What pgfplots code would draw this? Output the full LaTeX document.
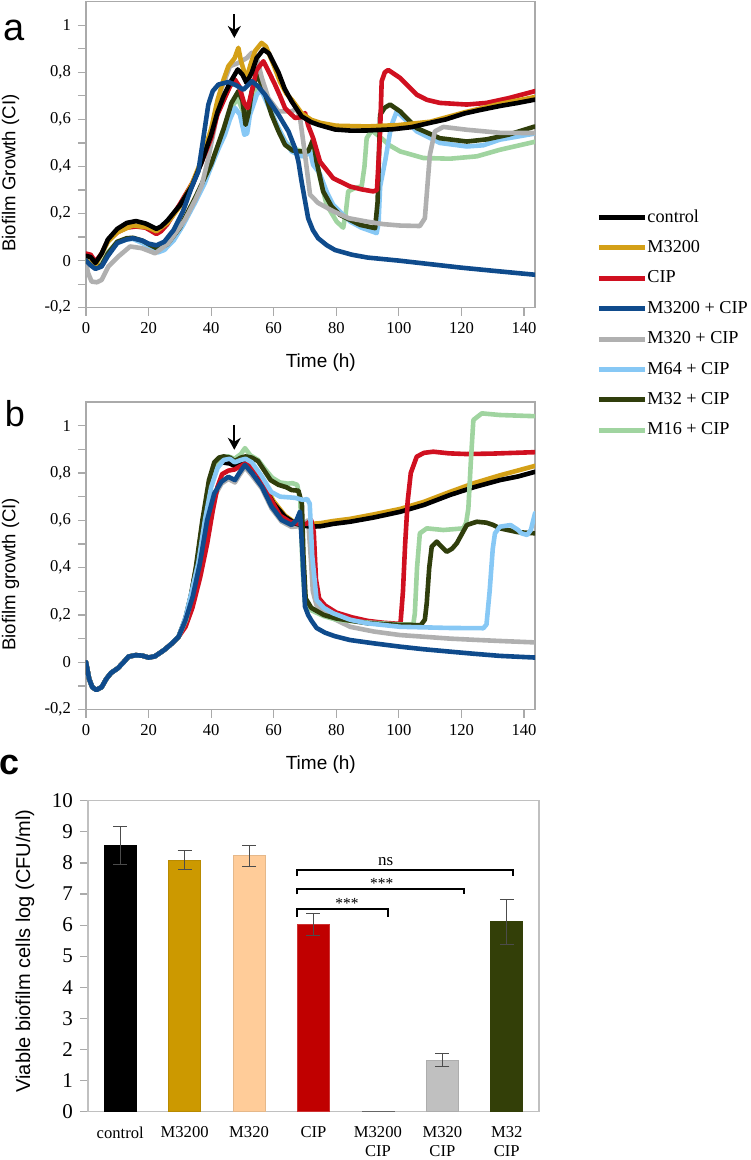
\documentclass[border=0pt]{standalone}
\usepackage{fontspec}
\setmainfont{Liberation Serif}
\newfontfamily\seriff{Liberation Serif}
\newfontfamily\sansf{Liberation Sans}
\usepackage{pgfplots}
\pgfplotsset{compat=1.18}
\usetikzlibrary{arrows.meta}
\definecolor{cblack}{RGB}{0,0,0}
\definecolor{cgold}{RGB}{212,160,23}
\definecolor{cred}{RGB}{208,16,32}
\definecolor{cblue}{RGB}{15,75,140}
\definecolor{cgray}{RGB}{176,176,176}
\definecolor{clblue}{RGB}{135,200,245}
\definecolor{colive}{RGB}{48,62,12}
\definecolor{cgreen}{RGB}{160,212,160}
\definecolor{boxgray}{RGB}{170,170,170}
\definecolor{bgold}{RGB}{204,153,0}
\definecolor{bpeach}{RGB}{255,204,153}
\definecolor{bred}{RGB}{192,0,0}
\definecolor{bgray}{RGB}{192,192,192}
\definecolor{bolive}{RGB}{51,63,8}
\pgfplotsset{
  lineaxis/.style={
    scale only axis, width=224.5pt,
    xmin=0, xmax=143.5, ymin=-0.2, ymax=1.1,
    xtick={0,20,40,60,80,100,120,140},
    xticklabels={0,20,40,60,80,100,120,140},
    ytick={-0.2,0,0.2,0.4,0.6,0.8,1},
    yticklabels={{-0,2},{0},{0,2},{0,4},{0,6},{0,8},{1}},
    minor ytick={-0.1,0.1,0.3,0.5,0.7,0.9},
    tick align=outside, tick pos=left,
    major tick length=4pt, minor tick length=4pt,
    axis line style={boxgray, line width=0.6pt},
    tick style={boxgray, line width=0.6pt},
    ticklabel style={font=\seriff\fontsize{8.3}{10}\selectfont},
    every axis y label/.style={at={(axis description cs:-0.168,0.44)}, rotate=90, anchor=center, font=\sansf\fontsize{9.3}{11}\selectfont},
    every axis x label/.style={at={(axis description cs:0.523,-0.18)}, anchor=center, font=\sansf\fontsize{9.5}{11}\selectfont},
    xlabel={Time (h)},
    every axis plot/.append style={no markers, line width=2.3pt, line join=round, line cap=round},
    legend image code/.code={\draw[#1, line width=2.5pt, line cap=butt] (0pt,0pt) -- (23pt,0pt);},
  }
}
\begin{document}
\begin{tikzpicture}
\path[use as bounding box] (0,0) rectangle (375pt,-580pt);
% ---------------- panel a
\begin{axis}[lineaxis, at={(43pt,-0.85pt)}, anchor=north west, height=153pt,
  ylabel={Biofilm Growth (CI)},
  legend style={at={(axis description cs:1.136,0.3235)}, anchor=north west, draw=none, fill=none, inner sep=0pt,
    row sep=6.9pt, font=\seriff\fontsize{9.1}{10}\selectfont,
    nodes={inner sep=0pt, text height=6.5pt, text depth=1.8pt, anchor=west}},
  legend cell align=left,
  legend columns=1,
  /tikz/every even column/.append style={column sep=2.5pt},
]
\addlegendimage{cblack}\addlegendentry{control}
\addlegendimage{cgold}\addlegendentry{M3200}
\addlegendimage{cred}\addlegendentry{CIP}
\addlegendimage{cblue}\addlegendentry{M3200 + CIP}
\addlegendimage{cgray}\addlegendentry{M320 + CIP}
\addlegendimage{clblue}\addlegendentry{M64 + CIP}
\addlegendimage{colive}\addlegendentry{M32 + CIP}
\addlegendimage{cgreen}\addlegendentry{M16 + CIP}
% M16 + CIP
\addplot[cgreen, forget plot] coordinates {(0,0.0) (3,-0.025) (5,-0.015) (7,0.035) (10,0.08) (13,0.092) (15,0.095) (18,0.08) (20,0.068) (23,0.045) (26,0.065) (30,0.13) (35,0.26) (40,0.40) (44,0.56) (46.5,0.65) (48.5,0.69) (50,0.64) (51,0.6) (52.5,0.66) (54.5,0.74) (56,0.75) (58,0.68) (61,0.57) (64,0.5) (66.5,0.475) (69,0.465) (71.5,0.47) (72.6,0.48) (74.8,0.35) (76.9,0.237) (80.1,0.166) (82.2,0.14) (83,0.2) (83.8,0.294) (86,0.309) (88.1,0.315) (89,0.4) (89.7,0.52) (91.3,0.553) (94,0.525) (97,0.49) (100.4,0.464) (107.8,0.436) (116.3,0.433) (124.9,0.443) (132.3,0.471) (143.5,0.505)};
% M64 + CIP
\addplot[clblue, forget plot] coordinates {(0,-0.005) (3,-0.03) (5,-0.02) (7,0.03) (10,0.075) (13,0.09) (15,0.092) (18,0.075) (20,0.06) (23,0.035) (25,0.045) (28,0.085) (31,0.15) (35,0.25) (38,0.33) (40,0.40) (42.5,0.48) (44.4,0.535) (46,0.6) (47.6,0.649) (49.2,0.62) (50.6,0.535) (51.5,0.54) (52.4,0.62) (54.6,0.705) (56,0.725) (58.5,0.65) (61.5,0.564) (63.5,0.51) (65.7,0.464) (68.9,0.443) (70.5,0.45) (71.6,0.464) (72.6,0.407) (74.7,0.37) (77,0.29) (79,0.237) (84.4,0.166) (88,0.14) (92.9,0.117) (93.5,0.16) (94,0.315) (95.7,0.43) (97.5,0.57) (99.3,0.634) (102,0.6) (105.7,0.549) (113.1,0.5) (121.7,0.485) (127,0.49) (132.3,0.514) (143.5,0.54)};
% M32 + CIP
\addplot[colive, forget plot] coordinates {(0,0.0) (3,-0.03) (5,-0.02) (7,0.03) (10,0.08) (13,0.095) (15,0.097) (18,0.085) (20,0.07) (23,0.05) (26,0.07) (30,0.14) (35,0.27) (40,0.41) (44,0.56) (46.5,0.67) (48.7,0.72) (50,0.68) (51,0.577) (52,0.63) (53,0.72) (54.6,0.79) (56.5,0.74) (59.3,0.62) (61.5,0.55) (63.6,0.492) (66,0.468) (67.9,0.464) (71,0.464) (72.6,0.515) (73.7,0.42) (75.8,0.294) (78.5,0.23) (81.2,0.194) (87.6,0.152) (92.4,0.138) (93.2,0.25) (94,0.62) (95.5,0.65) (97.2,0.663) (100.4,0.634) (105.7,0.563) (113.1,0.52) (121.7,0.506) (128,0.515) (135,0.535) (143.5,0.57)};
% M320 + CIP
\addplot[cgray, forget plot] coordinates {(0,-0.01) (0.7,-0.054) (1.8,-0.089) (3.5,-0.092) (5,-0.082) (7.1,-0.026) (10.3,0.017) (14.1,0.06) (17.8,0.053) (22.1,0.031) (26.3,0.074) (31.6,0.173) (35,0.26) (37,0.32) (39,0.43) (41,0.56) (43,0.72) (46,0.826) (48.7,0.84) (51.4,0.861) (53,0.883) (54.6,0.86) (56.2,0.776) (58.3,0.69) (61.5,0.634) (65.7,0.634) (67.3,0.645) (68.4,0.606) (70,0.45) (71.6,0.28) (74.2,0.245) (79,0.21) (84,0.18) (89.7,0.166) (95,0.155) (100.4,0.149) (106.7,0.147) (108.3,0.18) (109.9,0.45) (111.5,0.549) (114.2,0.568) (121.7,0.556) (132.3,0.543) (143.5,0.542)};
% CIP
\addplot[cred, forget plot] coordinates {(0,0.03) (1.5,0.025) (3,-0.005) (5,0.03) (7,0.085) (10,0.12) (13,0.14) (16,0.145) (19,0.14) (21,0.125) (22.5,0.113) (24,0.125) (26,0.155) (30,0.24) (34,0.33) (37,0.42) (40,0.52) (42,0.62) (44,0.68) (46,0.74) (47.6,0.769) (49,0.74) (50.5,0.67) (51.7,0.648) (53,0.72) (54.5,0.81) (56.7,0.847) (58.5,0.80) (60.4,0.748) (62,0.70) (63.6,0.648) (66.8,0.606) (69,0.61) (70,0.627) (71,0.575) (72.6,0.52) (74.8,0.42) (79,0.35) (84.4,0.315) (88,0.303) (91.8,0.294) (93,0.30) (94,0.55) (94.5,0.762) (95.5,0.80) (96.6,0.81) (100.4,0.776) (105.7,0.705) (109,0.683) (113.1,0.67) (121.7,0.663) (128,0.67) (135,0.69) (143.5,0.72)};
% M3200
\addplot[cgold, forget plot] coordinates {(0,0.0) (3,-0.02) (7,0.08) (10,0.12) (15,0.15) (20,0.14) (22.5,0.125) (26,0.16) (30,0.23) (34,0.33) (37,0.43) (40,0.56) (42,0.68) (44,0.77) (45.5,0.826) (47.5,0.86) (48.7,0.904) (49.5,0.85) (51.3,0.769) (52.5,0.83) (54,0.89) (56.1,0.925) (57.5,0.91) (60,0.83) (62,0.76) (64,0.71) (66,0.68) (69,0.625) (72,0.598) (75,0.585) (80,0.573) (90,0.57) (100,0.576) (110,0.59) (121,0.63) (132,0.665) (143.5,0.695)};
% control
\addplot[cblack, forget plot] coordinates {(0,0.02) (1.5,0.015) (3,-0.01) (5,0.03) (7,0.09) (10,0.135) (13,0.16) (16,0.168) (19,0.158) (21,0.145) (22.5,0.135) (24,0.145) (26,0.17) (30,0.235) (34,0.32) (37,0.42) (40,0.535) (42,0.63) (44,0.70) (46,0.755) (48.5,0.812) (50,0.79) (51.3,0.755) (53,0.80) (54.5,0.86) (56.7,0.897) (58.5,0.88) (61.5,0.80) (63.5,0.73) (65.7,0.677) (68.9,0.613) (72,0.588) (74.3,0.577) (79.6,0.557) (85,0.552) (90,0.553) (98,0.558) (104,0.567) (109.5,0.584) (115,0.60) (120.9,0.625) (126,0.64) (132.3,0.657) (138,0.67) (143.5,0.684)};
% M3200 + CIP
\addplot[cblue, forget plot] coordinates {(0,0.0) (1.5,-0.02) (3,-0.035) (5,-0.025) (7,0.02) (10,0.075) (13,0.09) (15,0.095) (18,0.085) (20,0.072) (22.5,0.065) (25,0.08) (28,0.13) (31,0.21) (34,0.32) (35.9,0.379) (37.5,0.52) (39.1,0.663) (40.5,0.72) (42.3,0.748) (45.5,0.759) (48,0.745) (50.3,0.726) (53,0.762) (55,0.74) (57.2,0.705) (61.5,0.62) (64.7,0.549) (66.8,0.478) (67.9,0.42) (68.9,0.336) (71,0.18) (72.5,0.13) (74.2,0.095) (77,0.065) (79.6,0.045) (85,0.025) (90,0.013) (100,0.0) (110,-0.015) (120,-0.03) (130,-0.043) (143.5,-0.06)};
\draw[line width=0.9pt, -{Stealth[length=6pt, width=6.5pt]}] (axis cs:47.4,1.046) -- (axis cs:47.4,0.946);
\end{axis}
% ---------------- panel b
\begin{axis}[lineaxis, at={(43pt,-201pt)}, anchor=north west, height=153.8pt,
  ylabel={Biofilm growth (CI)}]
% M320 + CIP
\addplot[cgray] coordinates {(0,0.0) (1,-0.07) (2,-0.105) (3.3,-0.117) (5,-0.105) (6.5,-0.07) (8,-0.045) (10.2,-0.025) (12,0.0) (13.6,0.024) (15.9,0.03) (18,0.028) (20,0.02) (22,0.025) (25,0.052) (27.5,0.08) (29.6,0.108) (31.8,0.17) (34.1,0.26) (36.4,0.40) (38.7,0.58) (41,0.70) (43.3,0.755) (45.5,0.775) (47.6,0.76) (49,0.79) (50.8,0.825) (53,0.79) (56.2,0.735) (59.3,0.65) (62.5,0.595) (65.7,0.572) (68,0.575) (70,0.59) (71,0.6) (71.8,0.45) (72.5,0.3) (73.7,0.24) (76,0.21) (79,0.185) (84.4,0.15) (92,0.13) (100.4,0.115) (108,0.108) (116.3,0.10) (124,0.095) (132.3,0.09) (143.5,0.084)};
% M3200
\addplot[cgold] coordinates {(0,0.0) (1,-0.07) (2,-0.105) (3.3,-0.117) (5,-0.105) (6.5,-0.07) (8,-0.045) (10.2,-0.025) (12,0.0) (13.6,0.024) (15.9,0.03) (18,0.028) (20,0.02) (22,0.025) (25,0.052) (27.5,0.08) (29.6,0.108) (31.7,0.18) (33.7,0.29) (35.5,0.42) (37.5,0.61) (39.5,0.76) (41.5,0.83) (43.5,0.85) (46,0.85) (47.5,0.835) (49.5,0.85) (51,0.85) (53,0.83) (55,0.80) (57,0.75) (60,0.68) (63.6,0.62) (66.8,0.59) (69,0.582) (72.1,0.585) (75,0.588) (79,0.597) (84.4,0.606) (92,0.625) (100.4,0.648) (108,0.678) (116.3,0.72) (124,0.757) (132.3,0.79) (143.5,0.83)};
% control
\addplot[cblack] coordinates {(0,0.0) (1,-0.07) (2,-0.105) (3.3,-0.117) (5,-0.105) (6.5,-0.07) (8,-0.045) (10.2,-0.025) (12,0.0) (13.6,0.024) (15.9,0.03) (18,0.028) (20,0.02) (22,0.025) (25,0.052) (27.5,0.08) (29.6,0.108) (31.7,0.18) (33.7,0.29) (35.5,0.42) (37.5,0.61) (39.5,0.755) (41.5,0.825) (43.5,0.845) (46,0.84) (47.5,0.83) (49.5,0.845) (51,0.845) (53,0.825) (55,0.80) (57,0.74) (60,0.67) (63.6,0.615) (66.8,0.587) (69,0.578) (72.1,0.573) (75,0.575) (79,0.585) (84.4,0.594) (92,0.612) (100.4,0.636) (108,0.665) (116.3,0.707) (124,0.74) (132.3,0.77) (138,0.785) (143.5,0.805)};
% CIP
\addplot[cred] coordinates {(0,0.0) (1,-0.07) (2,-0.105) (3.3,-0.117) (5,-0.105) (6.5,-0.07) (8,-0.045) (10.2,-0.025) (12,0.0) (13.6,0.024) (15.9,0.03) (18,0.028) (20,0.02) (22,0.025) (25,0.052) (27.5,0.08) (29.6,0.108) (31.8,0.15) (34,0.23) (36.5,0.36) (38.7,0.5) (40.5,0.64) (42,0.74) (43.5,0.795) (45.5,0.81) (47.5,0.815) (49.5,0.83) (51,0.84) (53,0.83) (56,0.78) (59,0.69) (62,0.62) (65,0.595) (68,0.585) (70.5,0.585) (72,0.6) (72.8,0.55) (73.5,0.35) (74.5,0.27) (76.4,0.24) (80,0.21) (85,0.19) (90,0.175) (95,0.167) (100.5,0.162) (101.3,0.3) (102,0.5) (102.8,0.68) (103.8,0.8) (105.7,0.869) (108,0.885) (111,0.89) (116,0.883) (121.7,0.88) (130,0.882) (143.5,0.888)};
% M16 + CIP
\addplot[cgreen] coordinates {(0,0.0) (1,-0.07) (2,-0.105) (3.3,-0.117) (5,-0.105) (6.5,-0.07) (8,-0.045) (10.2,-0.025) (12,0.0) (13.6,0.024) (15.9,0.03) (18,0.028) (20,0.02) (22,0.025) (25,0.052) (27.5,0.08) (29.6,0.108) (32,0.18) (33.8,0.28) (35.5,0.40) (37.5,0.6) (39.5,0.76) (41.5,0.84) (43.5,0.865) (45.5,0.87) (47.5,0.86) (49.5,0.88) (50.8,0.905) (52.5,0.875) (55,0.855) (57,0.82) (59.5,0.78) (62,0.76) (64.5,0.755) (66,0.757) (67.5,0.75) (68.5,0.68) (69.2,0.4) (70,0.25) (72,0.22) (76,0.195) (80,0.18) (90,0.168) (100,0.16) (104.6,0.16) (105.1,0.207) (105.8,0.4) (106.7,0.545) (108.9,0.566) (114.2,0.559) (120.6,0.566) (121.5,0.59) (122.2,0.65) (123,0.85) (123.8,1.024) (126.5,1.052) (132.3,1.045) (143.5,1.04)};
% M32 + CIP
\addplot[colive] coordinates {(0,0.0) (1,-0.07) (2,-0.105) (3.3,-0.117) (5,-0.105) (6.5,-0.07) (8,-0.045) (10.2,-0.025) (12,0.0) (13.6,0.024) (15.9,0.03) (18,0.028) (20,0.02) (22,0.025) (25,0.052) (27.5,0.08) (29.6,0.108) (31.9,0.19) (33.5,0.28) (35.1,0.40) (37.2,0.6) (39.3,0.77) (41,0.845) (42.5,0.865) (44,0.87) (46,0.865) (47.5,0.85) (49.5,0.865) (51,0.87) (53,0.865) (55,0.85) (57,0.81) (59,0.77) (61.5,0.75) (64,0.74) (65.7,0.728) (67.9,0.725) (69,0.67) (69.5,0.45) (70.2,0.27) (72,0.23) (76,0.20) (80,0.185) (90,0.165) (100,0.158) (107,0.157) (108.3,0.18) (108.9,0.25) (109.7,0.4) (110.5,0.489) (112.1,0.51) (113.5,0.49) (115.3,0.467) (117,0.48) (118.5,0.503) (121.7,0.58) (124.9,0.594) (128,0.59) (130.2,0.58) (132.3,0.566) (138,0.55) (143.5,0.545)};
% M64 + CIP
\addplot[clblue] coordinates {(0,0.0) (1,-0.07) (2,-0.105) (3.3,-0.117) (5,-0.105) (6.5,-0.07) (8,-0.045) (10.2,-0.025) (12,0.0) (13.6,0.024) (15.9,0.03) (18,0.028) (20,0.02) (22,0.025) (25,0.052) (27.5,0.08) (29.6,0.108) (31.8,0.19) (33.8,0.30) (35.9,0.42) (38,0.6) (40,0.74) (42,0.82) (44,0.855) (46,0.86) (47.5,0.845) (49.5,0.855) (51,0.86) (53,0.845) (56,0.79) (59.2,0.72) (62,0.70) (66.8,0.695) (69.4,0.686) (70.7,0.69) (71.5,0.67) (72.3,0.45) (73.7,0.263) (76,0.23) (79,0.207) (84.4,0.18) (89.7,0.165) (100.4,0.15) (110,0.147) (116.3,0.145) (127,0.144) (128,0.16) (129,0.3) (130,0.48) (130.7,0.545) (132.3,0.573) (135.7,0.58) (138,0.56) (139.2,0.545) (141,0.538) (142.2,0.56) (143.5,0.63)};
% M3200 + CIP
\addplot[cblue] coordinates {(0,0.0) (1,-0.07) (2,-0.105) (3.3,-0.117) (5,-0.105) (6.5,-0.07) (8,-0.045) (10.2,-0.025) (12,0.0) (13.6,0.024) (15.9,0.03) (18,0.028) (20,0.02) (22,0.025) (25,0.052) (27.5,0.08) (29.6,0.108) (31.8,0.178) (34.1,0.277) (36.4,0.418) (38.7,0.60) (41,0.714) (43.3,0.763) (45.5,0.784) (47.6,0.77) (49,0.80) (50.8,0.834) (53,0.80) (56.2,0.742) (59.3,0.658) (62.5,0.601) (65.7,0.58) (67.3,0.601) (68.4,0.637) (69.2,0.45) (70,0.235) (71,0.2) (72.1,0.175) (73.7,0.145) (76.4,0.125) (79.6,0.11) (84.4,0.094) (92,0.08) (100.4,0.066) (108,0.055) (116.3,0.045) (124,0.036) (132.3,0.027) (143.5,0.02)};
\draw[line width=0.9pt, -{Stealth[length=6pt, width=6.5pt]}] (axis cs:47.4,1.003) -- (axis cs:47.4,0.898);
\end{axis}
% ---------------- panel c
\begin{axis}[at={(44pt,-555.85pt)}, anchor=south west, scale only axis,
  width=225.5pt, height=155.5pt,
  xmin=-0.5, xmax=6.5, ymin=0, ymax=10,
  ytick={0,1,2,3,4,5,6,7,8,9,10},
  yticklabels={0,1,2,3,4,5,6,7,8,9,10},
  xtick={0,1,2,3,4,5,6},
  xticklabels={control, M3200, M320, CIP, {M3200\\CIP}, {M320\\CIP}, {M32\\CIP}},
  xticklabel style={align=center, font=\seriff\fontsize{8.3}{9.5}\selectfont, anchor=north},
  yticklabel style={font=\seriff\fontsize{10.5}{12}\selectfont},
  tick align=outside, ytick pos=left,
  major tick length=4pt,
  x tick style={draw=none},
  y tick style={boxgray, line width=0.6pt},
  axis line style={bgray, line width=0.6pt},
  ylabel={Viable biofilm cells log (CFU/ml)},
  every axis y label/.style={at={(axis description cs:-0.14,0.517)}, rotate=90, anchor=center, font=\sansf\fontsize{10}{12}\selectfont},
  ybar, bar width=16pt,
  error bars/error bar style={line width=0.5pt, black!70},
  error bars/error mark options={rotate=90, mark size=3.5pt, line width=0.5pt, black!70},
]
\addplot[bar shift=0pt, fill=black, draw=black, error bars/.cd, y dir=both, y explicit] coordinates {(0,8.55) +- (0,0.61)};
\addplot[bar shift=0pt, fill=bgold, draw=bgold!90!black, error bars/.cd, y dir=both, y explicit] coordinates {(1,8.09) +- (0,0.30)};
\addplot[bar shift=0pt, fill=bpeach, draw=bpeach!90!black, error bars/.cd, y dir=both, y explicit] coordinates {(2,8.23) +- (0,0.33)};
\addplot[bar shift=0pt, fill=bred, draw=bred!80!white, error bars/.cd, y dir=both, y explicit] coordinates {(3,6.02) +- (0,0.35)};
\addplot[bar shift=0pt, fill=black!60, draw=black!60] coordinates {(4,0.02)};
\addplot[bar shift=0pt, fill=bgray, draw=bgray!90!black, error bars/.cd, y dir=both, y explicit] coordinates {(5,1.66) +- (0,0.22)};
\addplot[bar shift=0pt, fill=bolive, draw=bolive, error bars/.cd, y dir=both, y explicit] coordinates {(6,6.11) +- (0,0.72)};
\draw[line width=1pt] (axis cs:2.75,6.27) |- (axis cs:4.15,6.51) -- (axis cs:4.15,6.27);
\draw[line width=1pt] (axis cs:2.75,6.99) |- (axis cs:5.33,7.17) -- (axis cs:5.33,6.99);
\draw[line width=1pt] (axis cs:2.75,7.59) |- (axis cs:6.1,7.77) -- (axis cs:6.1,7.59);
\node[anchor=base, font=\seriff\fontsize{7.7}{9}\selectfont, inner sep=0pt] at (axis cs:3.52,6.53) {***};
\node[anchor=base, font=\seriff\fontsize{7.7}{9}\selectfont, inner sep=0pt] at (axis cs:4.06,7.19) {***};
\node[anchor=base, font=\seriff\fontsize{8.5}{10}\selectfont, inner sep=0pt] at (axis cs:4.12,7.91) {ns};
\end{axis}
% panel letters
\node[font=\sansf\fontsize{19}{19}\selectfont] at (7pt,-15pt) {a};
\node[font=\sansf\fontsize{18}{18}\selectfont] at (7.5pt,-207pt) {b};
\node[font=\sansf\bfseries\fontsize{18}{18}\selectfont] at (5pt,-382.5pt) {c};
\end{tikzpicture}
\end{document}
